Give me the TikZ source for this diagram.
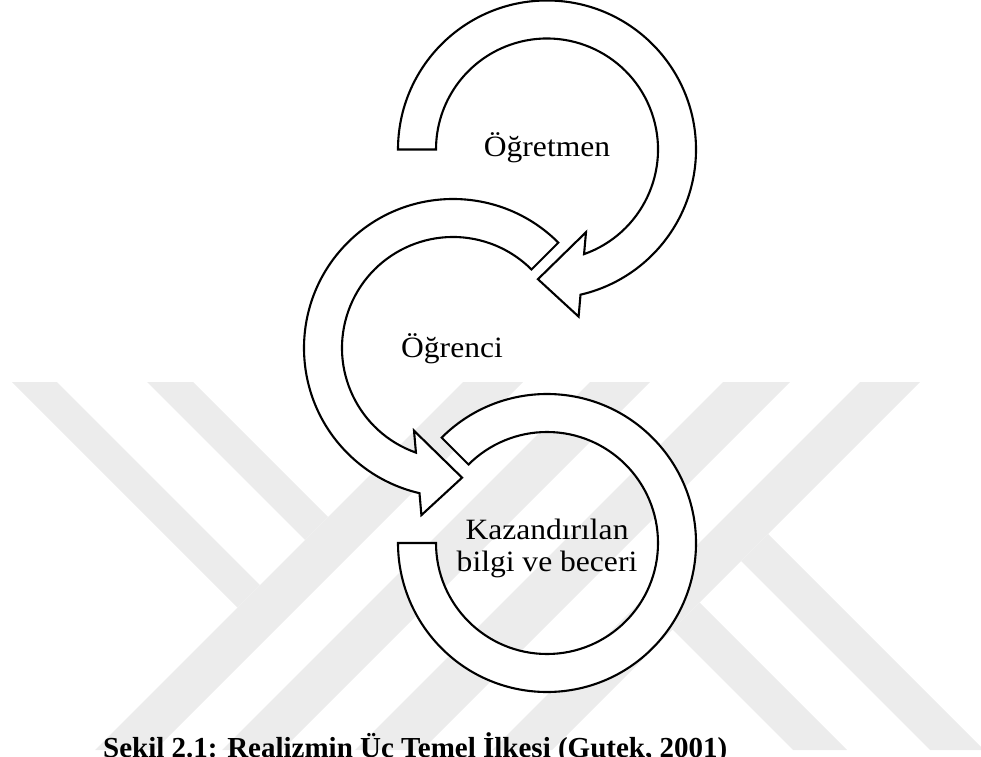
\documentclass[tikz,border=0pt]{standalone}
\usepackage{fontspec}
\setmainfont{Liberation Serif}
\newfontfamily\figfont[FakeStretch=1.07]{Liberation Serif}
\definecolor{wmgray}{RGB}{236,236,236}
\begin{document}
\begin{tikzpicture}[x=1pt,y=1pt,
  band/.style={draw=black,line width=2.1pt,fill=white,line join=miter,miter limit=10},
  wm/.style={fill=wmgray},
  lbl/.style={font=\figfont\fontsize{29.5}{32}\selectfont,inner sep=0pt,anchor=base},
  captext/.style={font=\bfseries\fontsize{29}{32}\selectfont,inner sep=0pt,anchor=base west}]
\useasboundingbox (0,0) rectangle (981,756);
\clip (0,0) rectangle (981,756);

% background emblem (page coordinates, y measured downwards)
\begin{scope}[shift={(0,756)},yscale=-1]
  % left pair of strokes meeting the first long stroke
  \fill[wm] (12,382) -- (57,382) -- (260,585) -- (237.5,607.5) -- cycle;
  \fill[wm] (147,382) -- (193,382) -- (328,517) -- (305,540) -- cycle;
  % long strokes
  \fill[wm] (463,382) -- (523,382) -- (155,750) -- (95,750) -- cycle;
  \fill[wm] (590,382) -- (650,382) -- (282,750) -- (222,750) -- cycle;
  \fill[wm] (723,382) -- (790,382) -- (422,750) -- (355,750) -- cycle;
  \fill[wm] (860,382) -- (920,382) -- (552,750) -- (492,750) -- cycle;
  % right pair of strokes leaving the last long stroke
  \fill[wm] (672.5,629.5) -- (699.5,602.5) -- (847,750) -- (793,750) -- cycle;
  \fill[wm] (741,561) -- (768,534) -- (984,750) -- (930,750) -- cycle;
\end{scope}

% top circular arrow
\begin{scope}[shift={(547,606.5)}]
  \draw[band] (180:149) arc[start angle=180,end angle=-77,radius=149]
    -- (31.6,-167.1) -- (-94:130) -- (39.0,-82.7) -- (-70.5:111)
    arc[start angle=-70.5,end angle=180,radius=111] -- cycle;
\end{scope}

% middle circular arrow
\begin{scope}[shift={(453,408)}]
  \draw[band] (45:149) arc[start angle=45,end angle=257,radius=149]
    -- (-31.6,-167.1) -- (274:130) -- (-39.0,-82.7) -- (250.5:111)
    arc[start angle=250.5,end angle=45,radius=111] -- cycle;
\end{scope}

% bottom open ring
\begin{scope}[shift={(547,213)}]
  \draw[band] (135:149) arc[start angle=135,end angle=-180,radius=149]
    -- (180:111) arc[start angle=180,end angle=495,radius=111] -- cycle;
\end{scope}

\node[lbl] (ogretmen) at (547,599) {Öğretmen};
\node[lbl] (ogrenci) at (452,399) {Öğrenci};
\node[lbl] (kaz1) at (547,217) {Kazandırılan};
\node[lbl] (kaz2) at (547,185) {bilgi ve beceri};

\node[captext] (caption) at (103,-1.5) {Şekil 2.1: Realizmin Üç Temel İlkesi (Gutek, 2001)};
\end{tikzpicture}
\end{document}
